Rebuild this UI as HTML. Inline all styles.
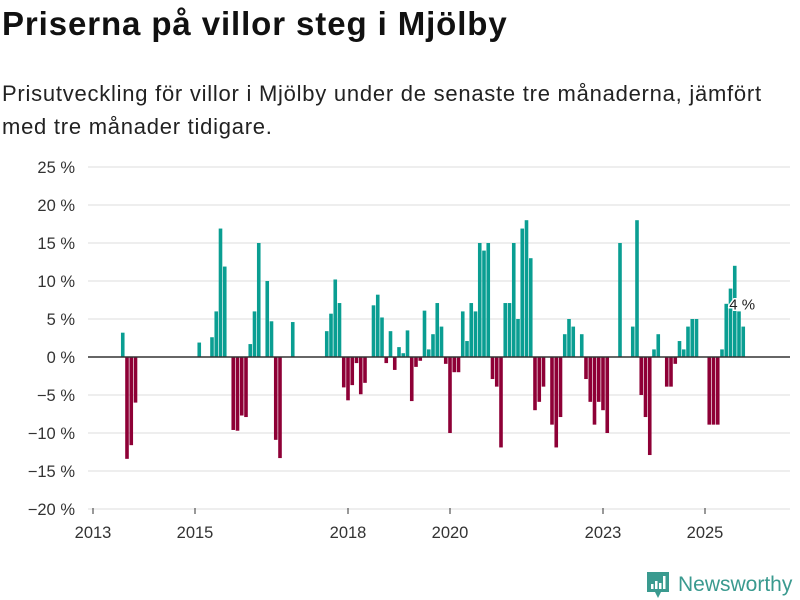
<!DOCTYPE html>
<html><head><meta charset="utf-8"><style>
body{margin:0;width:800px;height:600px;background:#fff;font-family:"Liberation Sans","DejaVu Sans",sans-serif;overflow:hidden;position:relative}
h1{position:absolute;left:2px;top:5px;margin:0;font-size:33px;font-weight:bold;color:#111;letter-spacing:0.9px;white-space:nowrap}
p{position:absolute;left:2px;top:77px;margin:0;font-size:22px;line-height:33px;color:#222;width:800px;letter-spacing:0.75px;white-space:nowrap}
</style></head><body>
<h1>Priserna på villor steg i Mjölby</h1>
<p>Prisutveckling för villor i Mjölby under de senaste tre månaderna, jämfört<br>med tre månader tidigare.</p>
<svg id="chart" width="800" height="600" style="position:absolute;left:0;top:0" font-family="Liberation Sans, DejaVu Sans, sans-serif"></svg>
<script>
const yTicks=[25,20,15,10,5,0,-5,-10,-15,-20];
const xTickYears=[2013,2015,2018,2020,2023,2025];
const months=[7,8,9,10,25,28,29,30,31,33,34,35,36,37,38,39,41,42,43,44,47,55,56,57,58,59,60,61,62,63,64,66,67,68,69,70,71,72,73,74,75,76,77,78,79,80,81,82,83,84,85,86,87,88,89,90,91,92,93,94,95,96,97,98,99,100,101,102,103,104,105,106,108,109,110,111,112,113,115,116,117,118,119,120,121,124,127,128,129,130,131,132,133,135,136,137,138,139,140,141,142,145,146,147,148,149,150,151,152,153];
const values=[3.2,-13.4,-11.6,-6,1.9,2.6,6,16.9,11.9,-9.6,-9.7,-7.7,-7.9,1.7,6,15,10,4.7,-10.9,-13.3,4.6,3.4,5.7,10.2,7.1,-4,-5.7,-3.7,-0.8,-4.9,-3.4,6.8,8.2,5.2,-0.8,3.4,-1.7,1.3,0.5,3.5,-5.8,-1.3,-0.5,6.1,1,3,7.1,4,-0.9,-10,-2,-2,6,2.1,7.1,6,15,14,15,-2.9,-3.9,-11.9,7.1,7.1,15,5,16.9,18,13,-7,-5.9,-3.9,-8.9,-11.9,-7.9,3,5,4,3,-2.9,-5.9,-8.9,-5.9,-7,-10,15,4,18,-5,-7.9,-12.9,1,3,-3.9,-3.9,-0.9,2.1,1,4,5,5,-8.9,-8.9,-8.9,1,7,9,12,6,4];
const lastLabel="4 %";
const svg=document.getElementById('chart');
const NS='http://www.w3.org/2000/svg';
const x0=93,pxPerYear=51,yZero=357,pxPerPct=7.6;
function xScale(m){return x0+m*pxPerYear/12;}
function yScale(v){return yZero-v*pxPerPct;}
function mk(t,a){const e=document.createElementNS(NS,t);for(const k in a)e.setAttribute(k,a[k]);svg.appendChild(e);return e;}
yTicks.forEach(v=>{
  if(v!==0){const g=mk('line',{x1:88,x2:790,y1:yScale(v),y2:yScale(v),stroke:'#dedede','stroke-width':1});
  
  }
  const t=mk('text',{x:75,y:yScale(v)+6,'text-anchor':'end','font-size':16.5,fill:'#333'});
  t.textContent=(v<0?'\u2212'+(-v):v)+' %';
  
  
});
xTickYears.forEach(yr=>{
  const x=xScale((yr-2013)*12);
  const l=mk('line',{x1:x,x2:x,y1:508,y2:514,stroke:'#333','stroke-width':1});
  
  
  const t=mk('text',{x:x,y:538,'text-anchor':'middle','font-size':16.5,fill:'#333'});
  t.textContent=yr;
  
  
});
months.forEach((m,i)=>{
  const v=values[i];const x=xScale(m)-1.8;
  const y=v>=0?yScale(v):yZero;const h=Math.abs(yScale(v)-yZero);
  const r=mk('rect',{x:x,y:y,width:3.6,height:h,fill:v>=0?'#0a9e92':'#8e0036'});
  
  
});
const z=mk('line',{x1:88,x2:790,y1:yZero,y2:yZero,stroke:'#333','stroke-width':1.5});


const lm=months[months.length-1],lv=values[values.length-1];
const lb=mk('text',{x:xScale(lm)-14,y:yScale(lv)-17,'font-size':15,fill:'#222',stroke:'#fff','stroke-width':3,'paint-order':'stroke'});
lb.textContent=lastLabel;


</script>
<div style="position:absolute;left:646px;top:570px;height:30px;display:flex;align-items:center">
<svg width="24" height="28" viewBox="0 0 24 28"><path d="M1 1h22v20h-8l-3 6-3-6H1z" fill="#3a9a8f"/><rect x="5" y="13" width="2.5" height="5" fill="#fff"/><rect x="9" y="10" width="2.5" height="8" fill="#fff"/><rect x="13" y="12" width="2.5" height="6" fill="#fff"/><rect x="17" y="5" width="2.5" height="13" fill="#fff"/></svg>
<span style="margin-left:8px;font-size:21px;color:#3a9a8f">Newsworthy</span></div>
</body></html>
